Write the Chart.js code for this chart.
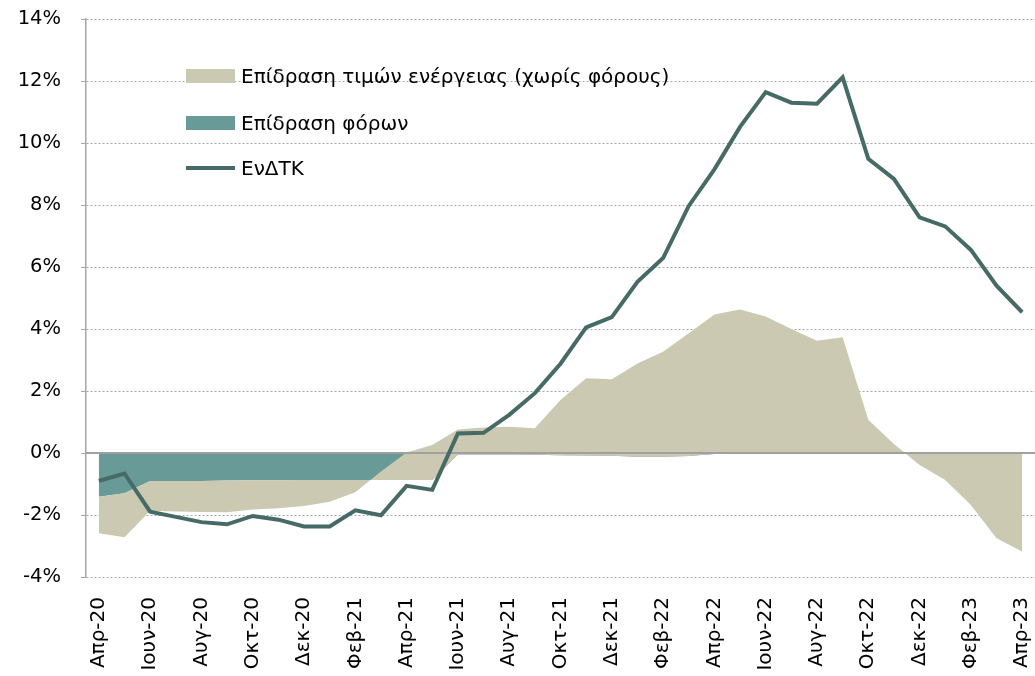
<!DOCTYPE html>
<html>
<head>
<meta charset="utf-8">
<script src="https://cdn.jsdelivr.net/npm/chart.js@4.4.0/dist/chart.umd.min.js"></script>
<style>
  body { margin: 0; background: #fff; }
  #wrap { position: relative; width: 1035px; height: 676px; }
  #legend { position: absolute; left: 186px; top: 0; font-family: "DejaVu Sans", sans-serif; font-size: 20px; color: #000; }
  .item { position: absolute; left: 0; display: flex; align-items: center; white-space: nowrap; height: 30px; }
  .sw { width: 49px; height: 14px; margin-right: 6px; }
  .sw.ln { height: 4px; }
</style>
</head>
<body>
<div id="wrap">
  <canvas id="chart"></canvas>
  <div id="legend"></div>
</div>
<script>
/* ── data ─────────────────────────────── */

const months = [
  'Απρ-20','Μαϊ-20','Ιουν-20','Ιουλ-20','Αυγ-20','Σεπ-20','Οκτ-20','Νοε-20','Δεκ-20',
  'Ιαν-21','Φεβ-21','Μαρ-21','Απρ-21','Μαϊ-21','Ιουν-21','Ιουλ-21','Αυγ-21','Σεπ-21','Οκτ-21','Νοε-21','Δεκ-21',
  'Ιαν-22','Φεβ-22','Μαρ-22','Απρ-22','Μαϊ-22','Ιουν-22','Ιουλ-22','Αυγ-22','Σεπ-22','Οκτ-22','Νοε-22','Δεκ-22',
  'Ιαν-23','Φεβ-23','Μαρ-23','Απρ-23'
];

// Επίδραση φόρων (p.p.)
const taxEffect = [
  -1.41, -1.30, -0.90, -0.90, -0.90, -0.89, -0.88, -0.88, -0.87,
  -0.87, -0.87, -0.87, -0.87, -0.87, -0.05, -0.05, -0.05, -0.06, -0.07, -0.08, -0.09,
  -0.12, -0.12, -0.10, -0.03, -0.02, -0.02, -0.02, -0.02, -0.02, 0.01, 0.01, -0.02,
  -0.02, -0.02, -0.02, -0.02
];

// Επίδραση τιμών ενέργειας χωρίς φόρους (p.p.)
const energyEffect = [
  -1.18, -1.42, -0.96, -0.99, -1.00, -1.02, -0.94, -0.90, -0.84,
  -0.70, -0.40, 0.27, 0.89, 1.13, 0.81, 0.87, 0.90, 0.86, 1.78, 2.49, 2.47,
  3.01, 3.39, 3.96, 4.50, 4.65, 4.42, 4.02, 3.64, 3.75, 1.06, 0.28, -0.37,
  -0.85, -1.66, -2.73, -3.16
];

// ΕνΔΤΚ (%)
const hicp = [
  -0.90, -0.66, -1.89, -2.06, -2.23, -2.30, -2.03, -2.15, -2.37,
  -2.37, -1.85, -2.01, -1.06, -1.19, 0.63, 0.65, 1.23, 1.93, 2.88, 4.05, 4.38,
  5.52, 6.29, 7.97, 9.15, 10.52, 11.64, 11.30, 11.27, 12.12, 9.49, 8.84, 7.60,
  7.31, 6.55, 5.40, 4.54
];

const yTicks = [-4, -2, 0, 2, 4, 6, 8, 10, 12, 14];

const BEIGE = '#CBC9B1';
const TEAL  = '#689B97';
const LINE  = '#466A66';
const GRID  = '#A6A6A6';

// energy area sits on top of the tax area (Excel-style cumulative stacking,
// signs mixed), so its outer edge is tax + energy
const energyEdge = energyEffect.map((e, i) => taxEffect[i] + e);

/* ── zero axis over the areas ─────────── */

const zeroLine = {
  id: 'zeroLine',
  beforeDatasetDraw(chart, args) {
    if (args.index !== 2) return;
    const { ctx, chartArea, scales } = chart;
    const y = scales.y.getPixelForValue(0);
    ctx.save();
    ctx.strokeStyle = '#A0A0A0';
    ctx.lineWidth = 2;
    ctx.beginPath();
    ctx.moveTo(chartArea.left, y);
    ctx.lineTo(chartArea.right, y);
    ctx.stroke();
    ctx.restore();
  }
};

Chart.defaults.font.family = '"DejaVu Sans", sans-serif';
Chart.defaults.color = '#000';

const chart = new Chart(document.getElementById('chart'), {
  type: 'line',
  data: {
    labels: months,
    datasets: [
      {
        label: 'Επίδραση φόρων',
        data: taxEffect,
        fill: 'origin',
        backgroundColor: TEAL,
        borderColor: 'transparent',
        borderWidth: 0,
        pointRadius: 0,
        tension: 0,
        order: 2
      },
      {
        label: 'Επίδραση τιμών ενέργειας (χωρίς φόρους)',
        data: energyEdge,
        fill: '-1',
        backgroundColor: BEIGE,
        borderColor: 'transparent',
        borderWidth: 0,
        pointRadius: 0,
        tension: 0,
        order: 1
      },
      {
        label: 'ΕνΔΤΚ',
        data: hicp,
        fill: false,
        borderColor: LINE,
        borderWidth: 4,
        pointRadius: 0,
        tension: 0,
        order: 0
      }
    ]
  },
  options: {
    responsive: true,
    maintainAspectRatio: false,
    animation: false,
    layout: { padding: { top: 19, right: 0, left: 0, bottom: 0 } },
    plugins: {
      legend: { display: false },
      tooltip: { enabled: false }
    },
    scales: {
      x: {
        offset: true,
        grid: { display: false, drawTicks: false },
        border: { display: false },
        afterFit: s => { s.height = 99; s.paddingLeft = 0; s.paddingRight = 0; },
        ticks: {
          autoSkip: false,
          maxRotation: 90,
          minRotation: 90,
          padding: 20,
          font: { size: 20 },
          callback: (v, i) => (i % 2 === 0 ? months[i] : '')
        }
      },
      y: {
        min: -4,
        max: 14,
        afterFit: s => { s.width = 86; s.paddingTop = 0; s.paddingBottom = 0; },
        afterBuildTicks: s => { s.ticks = yTicks.map(v => ({ value: v })); },
        grid: {
          color: GRID,
          lineWidth: 1,
          tickLength: 5,
          tickColor: GRID
        },
        border: {
          display: true,
          color: GRID,
          width: 1.5,
          dash: c => (c.tick && c.tick.value === 0 ? [] : [2, 2])
        },
        ticks: {
          padding: 20,
          font: { size: 19.5 },
          callback: v => v + '%'
        }
      }
    }
  },
  plugins: [zeroLine]
});

/* ── legend (inside plot, top-left) ───── */

const legendRows = [
  { ds: 1, top: 61, kind: 'box' },
  { ds: 0, top: 108, kind: 'box' },
  { ds: 2, top: 153, kind: 'line' }
];
const legendEl = document.getElementById('legend');
legendRows.forEach(r => {
  const ds = chart.data.datasets[r.ds];
  const item = document.createElement('div');
  item.className = 'item';
  item.style.top = r.top + 'px';
  const sw = document.createElement('span');
  sw.className = 'sw' + (r.kind === 'line' ? ' ln' : '');
  sw.style.background = r.kind === 'line' ? ds.borderColor : ds.backgroundColor;
  const txt = document.createElement('span');
  txt.textContent = ds.label;
  item.appendChild(sw);
  item.appendChild(txt);
  legendEl.appendChild(item);
});
</script>
</body>
</html>
